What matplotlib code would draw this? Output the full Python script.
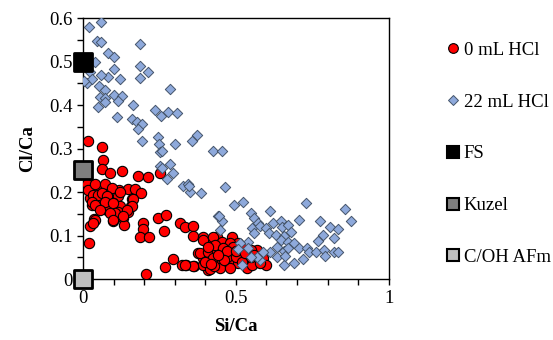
import numpy as np
import matplotlib.pyplot as plt
from matplotlib.lines import Line2D
from matplotlib.ticker import MultipleLocator

plt.rcParams['font.family'] = ['Liberation Serif', 'DejaVu Serif']

# 0 mL HCl
red_x = [0.017, 0.063, 0.065, 0.063, 0.088, 0.127, 0.18, 0.212, 0.252, 0.017, 0.045, 0.088, 0.118,
         0.148, 0.17, 0.19, 0.023, 0.062, 0.08, 0.115, 0.16, 0.03, 0.066, 0.098, 0.121, 0.157, 0.078,
         0.115, 0.148, 0.037, 0.098, 0.131, 0.023, 0.134, 0.197, 0.197, 0.246, 0.272, 0.266, 0.187,
         0.216, 0.02, 0.318, 0.334, 0.361, 0.361, 0.394, 0.295, 0.269, 0.324, 0.338, 0.364, 0.207,
         0.377, 0.394, 0.41, 0.416, 0.439, 0.443, 0.394, 0.426, 0.455, 0.488, 0.508, 0.482, 0.384,
         0.41, 0.439, 0.459, 0.492, 0.525, 0.57, 0.59, 0.60, 0.564, 0.538, 0.508, 0.475, 0.449, 0.416,
         0.394, 0.361, 0.334, 0.416, 0.449, 0.482, 0.538, 0.554, 0.426, 0.472, 0.515, 0.548, 0.433,
         0.459, 0.492, 0.525, 0.548, 0.41, 0.58, 0.013, 0.013, 0.017, 0.04, 0.072, 0.095, 0.033, 0.049,
         0.062, 0.079, 0.029, 0.04, 0.072, 0.098, 0.121, 0.164, 0.16, 0.144, 0.056, 0.105, 0.131,
         0.089, 0.098, 0.04, 0.033, 0.43, 0.47, 0.50, 0.52, 0.46, 0.44, 0.40, 0.50, 0.53, 0.56, 0.42]
red_y = [0.317, 0.303, 0.273, 0.252, 0.245, 0.248, 0.236, 0.234, 0.245, 0.222, 0.21, 0.208, 0.204,
         0.206, 0.206, 0.199, 0.187, 0.187, 0.19, 0.19, 0.183, 0.171, 0.169, 0.174, 0.167, 0.169, 0.16,
         0.155, 0.155, 0.139, 0.134, 0.141, 0.123, 0.125, 0.13, 0.116, 0.141, 0.148, 0.111, 0.097,
         0.097, 0.083, 0.13, 0.12, 0.123, 0.10, 0.097, 0.046, 0.028, 0.032, 0.032, 0.03, 0.012,
         0.06, 0.049, 0.021, 0.086, 0.097, 0.074, 0.09, 0.097, 0.086, 0.097, 0.083, 0.083, 0.06,
         0.063, 0.063, 0.056, 0.06, 0.056, 0.067, 0.049, 0.032, 0.044, 0.039, 0.037, 0.039, 0.037, 0.042,
         0.032, 0.03, 0.032, 0.023, 0.025, 0.025, 0.025, 0.032, 0.049, 0.051, 0.049, 0.051, 0.079,
         0.072, 0.074, 0.072, 0.067, 0.074, 0.037, 0.255, 0.218, 0.204, 0.218, 0.218, 0.21, 0.194, 0.194,
         0.199, 0.192, 0.178, 0.171, 0.178, 0.176, 0.201, 0.185, 0.167, 0.16, 0.16, 0.153, 0.146,
         0.153, 0.137, 0.137, 0.13, 0.03, 0.065, 0.05, 0.04, 0.045, 0.055, 0.04, 0.065, 0.06, 0.055, 0.035]

# 22 mL HCl
blue_x = [0.02, 0.058, 0.045, 0.06, 0.187, 0.083, 0.10, 0.04, 0.10, 0.185, 0.212, 0.187, 0.12, 0.083,
          0.06, 0.024, 0.012, 0.03, 0.053, 0.072, 0.285, 0.056, 0.072, 0.10, 0.128, 0.114, 0.05, 0.165,
          0.234, 0.255, 0.277, 0.307, 0.11, 0.16, 0.176, 0.193, 0.18, 0.245, 0.373, 0.072, 0.193, 0.25,
          0.253, 0.30, 0.285, 0.253, 0.259, 0.357, 0.426, 0.455, 0.259, 0.295, 0.275, 0.328, 0.351,
          0.345, 0.387, 0.463, 0.443, 0.455, 0.449, 0.348, 0.495, 0.525, 0.446, 0.551, 0.56, 0.574,
          0.613, 0.554, 0.56, 0.541, 0.58, 0.60, 0.623, 0.646, 0.652, 0.669, 0.679, 0.607, 0.63, 0.656,
          0.646, 0.669, 0.689, 0.705, 0.731, 0.705, 0.774, 0.807, 0.833, 0.856, 0.878, 0.82, 0.784,
          0.767, 0.734, 0.738, 0.761, 0.787, 0.793, 0.82, 0.833, 0.721, 0.689, 0.656, 0.636, 0.613,
          0.59, 0.58, 0.57, 0.548, 0.521, 0.515, 0.541, 0.508, 0.636, 0.656, 0.672, 0.662, 0.005]
blue_y = [0.58, 0.59, 0.548, 0.546, 0.54, 0.52, 0.51, 0.50, 0.483, 0.49, 0.475, 0.462, 0.46, 0.465,
          0.468, 0.477, 0.45, 0.46, 0.444, 0.435, 0.437, 0.419, 0.416, 0.424, 0.42, 0.41, 0.395, 0.40,
          0.389, 0.375, 0.384, 0.382, 0.372, 0.368, 0.361, 0.356, 0.345, 0.327, 0.331, 0.407, 0.317, 0.31,
          0.292, 0.31, 0.264, 0.259, 0.294, 0.317, 0.294, 0.294, 0.255, 0.245, 0.231, 0.213, 0.20,
          0.218, 0.199, 0.211, 0.144, 0.134, 0.113, 0.215, 0.171, 0.178, 0.146, 0.153, 0.141, 0.13,
          0.157, 0.118, 0.106, 0.086, 0.123, 0.118, 0.13, 0.134, 0.12, 0.125, 0.109, 0.106, 0.102, 0.10,
          0.09, 0.086, 0.083, 0.072, 0.176, 0.137, 0.134, 0.12, 0.116, 0.162, 0.134, 0.095, 0.102,
          0.088, 0.072, 0.063, 0.063, 0.067, 0.053, 0.063, 0.063, 0.046, 0.037, 0.032, 0.051, 0.063,
          0.063, 0.044, 0.051, 0.051, 0.032, 0.083, 0.072, 0.069, 0.074, 0.065, 0.072, 0.053, 0.455]

# reference phases
ref_names = ['FS', 'Kuzel', 'C/OH AFm']
ref_x = [0, 0, 0]
ref_y = [0.5, 0.25, 0.0]
ref_colors = ['#000000', '#7F7F7F', '#BFBFBF']

fig = plt.figure(figsize=(5.53, 3.4), dpi=100)
ax = fig.add_axes([0.150, 0.179, 0.553, 0.768])

ax.scatter(red_x, red_y, s=55, marker='o', color='#FF0000', edgecolors='black', linewidths=0.8, zorder=3)
ax.scatter(blue_x, blue_y, s=28, marker='D', color='#8EA9DB', edgecolors='#44546A', linewidths=0.7, zorder=4)
for x, y, c in zip(ref_x, ref_y, ref_colors):
    ax.scatter([x], [y], s=150, marker='s', color=c, edgecolors='black', linewidths=2, zorder=5, clip_on=False)

ax.set_xlim(0, 1)
ax.set_ylim(0, 0.6)
ax.xaxis.set_major_locator(MultipleLocator(0.5))
ax.xaxis.set_minor_locator(MultipleLocator(0.1))
ax.yaxis.set_major_locator(MultipleLocator(0.1))
ax.yaxis.set_minor_locator(MultipleLocator(0.05))
ax.xaxis.set_major_formatter(plt.FuncFormatter(lambda v, p: '%g' % v))
ax.yaxis.set_major_formatter(plt.FuncFormatter(lambda v, p: '%g' % v))
ax.tick_params(which='both', direction='out', length=4, width=1, labelsize=13.5, color='black')
for sp in ax.spines.values():
    sp.set_color('black')
    sp.set_linewidth(1)

ax.set_xlabel('Si/Ca', fontsize=13.5, fontweight='bold', labelpad=8)
ax.set_ylabel('Cl/Ca', fontsize=13.5, fontweight='bold', labelpad=9)

handles = [Line2D([], [], ls='', marker='o', ms=7, mfc='#FF0000', mec='black', mew=0.8),
           Line2D([], [], ls='', marker='D', ms=5, mfc='#8EA9DB', mec='#44546A', mew=0.7)]
for c in ref_colors:
    handles.append(Line2D([], [], ls='', marker='s', ms=8, mfc=c, mec='black', mew=1.5))
labels = ['0 mL HCl', '22 mL HCl'] + ref_names
ax.legend(handles, labels, loc='center left', bbox_to_anchor=(1.16, 0.48), frameon=False,
          fontsize=13.5, labelspacing=1.85, handlelength=0.6, handletextpad=0.3, borderpad=0)

fig.savefig('out.png', dpi=100)
